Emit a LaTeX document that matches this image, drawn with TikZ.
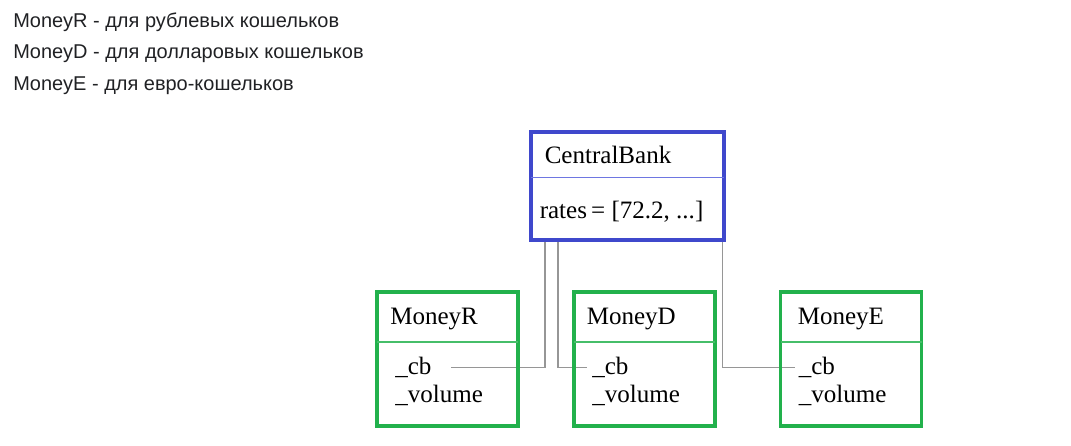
\documentclass[tikz,border=0pt]{standalone}
\usepackage{fontspec}
\setmainfont{Liberation Serif}
\newfontfamily\notefont{Liberation Sans}
\usetikzlibrary{positioning}
\definecolor{bankblue}{RGB}{63,72,204}
\definecolor{bankline}{RGB}{110,118,225}
\definecolor{walletgreen}{RGB}{34,177,76}
\definecolor{walletline}{RGB}{70,190,105}
\definecolor{linkgray}{RGB}{150,150,150}
\definecolor{notegray}{RGB}{32,33,36}

\begin{document}
\begin{tikzpicture}[x=0.025cm, y=-0.025cm]
    \tikzset{
      part/.style={rectangle, inner sep=0pt, outer sep=0pt},
      field/.style={inner sep=0pt, anchor=base west, font=\fontsize{17.8}{21}\selectfont},
      note/.style={inner sep=0pt, anchor=base west, text=notegray, font=\notefont\fontsize{14.2}{17}\selectfont},
      link/.style={draw=linkgray, line width=0.9pt},
      border/.style={line width=2.6pt},
      divider/.style={line width=0.75pt},
    }
    \useasboundingbox (0,0) rectangle (1071,446);
    % notes
    \foreach[count=\i] \txt in {MoneyR - для рублевых кошельков, MoneyD - для долларовых кошельков, MoneyE - для евро-кошельков} {
      \node (note\i) [note] at (13, -4+31.5*\i) {\txt};
    }
    % bank
    \node (bank head) [part, minimum width=4.83cm, minimum height=1.13cm, anchor=north west] at (531,132) {};
    \node (bank body) [part, minimum width=4.83cm, minimum height=1.57cm, below=0mm of bank head] {};
    \node (bank name) [field] at ([shift={(13.5,31)}]bank head.north west) {CentralBank};
    \node (rates) [field] at ([shift={(8.5,41)}]bank body.north west) {rates\,= [72.2, ...]};
    % wallets
    \foreach \cur\x\dx in {R/377/13, D/574/12.5, E/780.5/17} {
      \node (head\cur) [part, minimum width=3.525cm, minimum height=1.25cm, anchor=north west] at (\x,292) {};
      \node (body\cur) [part, minimum width=3.525cm, minimum height=2.1cm, below=0mm of head\cur] {};
      \node (name\cur) [field] at ([shift={(\dx,32)}]head\cur.north west) {Money\cur};
      \node (cb\cur) [field] at ([shift={(18,32.5)}]body\cur.north west) {\_cb};
      \node (volume\cur) [field] at ([shift={(0,28)}]cb\cur.base west) {\_volume};
    }
    % links
    \draw[link] ([shift={(14,0)}]bank body.south west) |- ([shift={(19,0)}]cbR.east);
    \draw[link] ([shift={(27,0)}]bank body.south west) |- ([shift={(-5,0)}]cbD.west);
    \draw[link] ([shift={(-2,0)}]bank body.south east) |- ([shift={(-4,0)}]cbE.west);
    % borders
    \draw[border, draw=bankblue] (bank head.north west) rectangle (bank body.south east);
    \draw[divider, draw=bankline] (bank head.south west) -- (bank head.south east);
    \foreach \cur in {R, D, E} {
      \draw[border, draw=walletgreen] (head\cur.north west) rectangle (body\cur.south east);
      \draw[divider, draw=walletline] (head\cur.south west) -- (head\cur.south east);
    }

  \end{tikzpicture}
\end{document}
